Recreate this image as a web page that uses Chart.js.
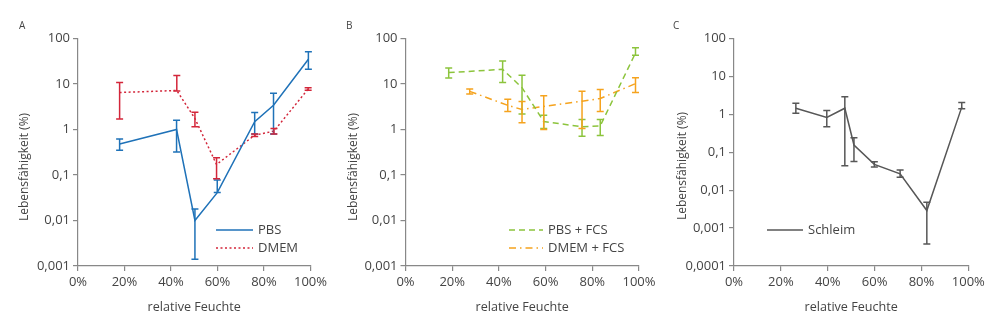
<!DOCTYPE html>
<html>
<head>
<meta charset="utf-8">
<script src="https://cdn.jsdelivr.net/npm/chart.js@4.4.0/dist/chart.umd.min.js"></script>
<style>
  body { margin: 0; background: #fff; width: 1000px; height: 336px; overflow: hidden; position: relative; font-family: "Open Sans", sans-serif; }
  .panel { position: absolute; top: 0; height: 336px; }
  .tag { position: absolute; top: 18px; font-size: 10px; color: #444; }
</style>
</head>
<body>
<div class="panel" style="left:0;width:330px"><canvas id="chartA" width="330" height="336"></canvas></div>
<div class="panel" style="left:330px;width:330px"><canvas id="chartB" width="330" height="336"></canvas></div>
<div class="panel" style="left:660px;width:340px"><canvas id="chartC" width="340" height="336"></canvas></div>
<div class="tag" style="left:19px">A</div>
<div class="tag" style="left:346px">B</div>
<div class="tag" style="left:673px">C</div>
<script>
// tick labels
var xTicks = [0, 20, 40, 60, 80, 100];
var yDecades = [100, 10, 1, 0.1, 0.01, 0.001, 0.0001];
var yDecadeLabels = ['100', '10', '1', '0,1', '0,01', '0,001', '0,0001'];

// Panel A
var pbsX = [17.9, 42.4, 50.3, 59.9, 76, 84.1, 99.1];
var pbsY = [0.48, 1.0, 0.01, 0.041, 1.48, 3.4, 35];
var pbsLo = [0.35, 0.32, 0.0014, 0.041, 0.8, 0.8, 21];
var pbsHi = [0.62, 1.6, 0.018, 0.078, 2.35, 6.3, 51];

var dmemX = [17.9, 42.5, 50.3, 59.6, 76, 84.3, 99];
var dmemY = [6.5, 7.2, 1.74, 0.17, 0.75, 0.92, 7.8];
var dmemLo = [1.7, 7.0, 1.15, 0.083, 0.7, 0.8, 7.3];
var dmemHi = [10.8, 15.4, 2.4, 0.24, 0.8, 1.05, 8.3];

// Panel B
var pbsFcsX = [18.5, 41.6, 49.9, 59.2, 75.6, 83.4, 98.5];
var pbsFcsY = [17.8, 21, 8.3, 1.5, 1.15, 1.2, 48];
var pbsFcsLo = [13.6, 10.8, 2.2, 1.05, 0.71, 0.74, 43];
var pbsFcsHi = [22.5, 32, 15.5, 2.05, 1.66, 1.66, 63];

var dmemFcsX = [27.5, 43.8, 49.9, 59.2, 75.6, 83.4, 98.5];
var dmemFcsY = [6.9, 3.4, 2.75, 3.2, 4.2, 4.8, 10.2];
var dmemFcsLo = [6.0, 2.5, 1.4, 1.0, 1.05, 2.5, 6.5];
var dmemFcsHi = [7.8, 4.6, 4.1, 5.5, 6.9, 7.6, 13.8];

// Panel C
var schleimX = [26.4, 39.6, 47.3, 51.2, 59.9, 70.9, 82.3, 97.2];
var schleimY = [1.45, 0.83, 1.45, 0.155, 0.048, 0.027, 0.0029, 1.55];
var schleimLo = [1.07, 0.47, 0.044, 0.057, 0.041, 0.022, 0.00038, 1.4];
var schleimHi = [1.95, 1.26, 2.9, 0.24, 0.056, 0.034, 0.0048, 2.05];

var FONT = '"Open Sans", sans-serif';

function pts(xs, ys) {
  return xs.map(function (x, i) { return { x: x, y: ys[i] }; });
}

var errorBars = {
  id: 'errorBars',
  afterDatasetsDraw: function (chart) {
    var ctx = chart.ctx, xs = chart.scales.x, ys = chart.scales.y;
    chart.data.datasets.forEach(function (ds) {
      if (!ds.errLow) return;
      ctx.save();
      ctx.strokeStyle = ds.borderColor;
      ctx.lineWidth = 1.5;
      ds.data.forEach(function (p, j) {
        var x = xs.getPixelForValue(p.x);
        var yt = ys.getPixelForValue(ds.errHigh[j]);
        var yb = ys.getPixelForValue(ds.errLow[j]);
        ctx.beginPath();
        ctx.moveTo(x, yt); ctx.lineTo(x, yb);
        ctx.moveTo(x - 3.5, yt); ctx.lineTo(x + 3.5, yt);
        ctx.moveTo(x - 3.5, yb); ctx.lineTo(x + 3.5, yb);
        ctx.stroke();
      });
      ctx.restore();
    });
  }
};

var insideLegend = {
  id: 'insideLegend',
  afterDraw: function (chart, args, opts) {
    var ctx = chart.ctx;
    ctx.save();
    ctx.font = '13px ' + FONT;
    ctx.textBaseline = 'middle';
    chart.data.datasets.forEach(function (ds, i) {
      var y = opts.y + i * opts.rowH;
      ctx.strokeStyle = ds.borderColor;
      ctx.lineWidth = 1.5;
      ctx.setLineDash(ds.borderDash || []);
      ctx.beginPath();
      ctx.moveTo(opts.x, y);
      ctx.lineTo(opts.x + opts.len, y);
      ctx.stroke();
      ctx.setLineDash([]);
      ctx.fillStyle = '#444';
      ctx.fillText(ds.label, opts.x + opts.len + 5, y);
    });
    // rotated y axis title
    ctx.translate(opts.titleX, opts.titleY);
    ctx.rotate(-Math.PI / 2);
    ctx.textAlign = 'center';
    ctx.font = '12px ' + FONT;
    ctx.fillText('Lebensfähigkeit (%)', 0, 0);
    ctx.restore();
  }
};

function makeChart(id, datasets, yMin, pad, yWidth, legendPos) {
  new Chart(document.getElementById(id), {
    type: 'line',
    data: { datasets: datasets },
    options: {
      responsive: false,
      animation: false,
      layout: { padding: pad },
      elements: { point: { radius: 0 }, line: { tension: 0, borderWidth: 1.5 } },
      plugins: { legend: { display: false }, tooltip: { enabled: false }, insideLegend: legendPos },
      scales: {
        x: {
          type: 'linear', min: 0, max: 100,
          afterBuildTicks: function (s) { s.ticks = xTicks.map(function (v) { return { value: v }; }); },
          afterFit: function (s) { s.height = 49; },
          ticks: { color: '#444', font: { size: 13, family: FONT }, padding: 3, maxRotation: 0,
                   callback: function (v) { return v + '%'; } },
          grid: { display: true, drawOnChartArea: false, drawTicks: true, tickLength: 5, color: '#888', lineWidth: 1.2 },
          border: { color: '#888', width: 1.2 },
          title: { display: true, text: 'relative Feuchte', color: '#444', font: { size: 12.6, family: FONT }, padding: 0 }
        },
        y: {
          type: 'logarithmic', min: yMin, max: 100,
          afterBuildTicks: function (s) {
            s.ticks = yDecades.filter(function (v) { return v >= yMin; }).map(function (v) { return { value: v }; });
          },
          afterFit: function (s) { s.width = yWidth; },
          ticks: { color: '#444', font: { size: 13, family: FONT }, padding: 3,
                   callback: function (v) { return yDecadeLabels[yDecades.indexOf(v)]; } },
          grid: { display: true, drawOnChartArea: false, drawTicks: true, tickLength: 5, color: '#888', lineWidth: 1.2 },
          border: { color: '#888', width: 1.2 },
          title: { display: false }
        }
      }
    },
    plugins: [errorBars, insideLegend]
  });
}

makeChart('chartA', [
  { label: 'PBS', data: pts(pbsX, pbsY), errLow: pbsLo, errHigh: pbsHi, borderColor: '#1f72b8' },
  { label: 'DMEM', data: pts(dmemX, dmemY), errLow: dmemLo, errHigh: dmemHi, borderColor: '#d3263a', borderDash: [2, 2.5] }
], 0.001, { left: 15, right: 18, top: 38.5, bottom: 21 }, 63,
  { x: 216, y: 230, rowH: 18, len: 37, titleX: 25, titleY: 167 });

makeChart('chartB', [
  { label: 'PBS + FCS', data: pts(pbsFcsX, pbsFcsY), errLow: pbsFcsLo, errHigh: pbsFcsHi, borderColor: '#8cc43c', borderDash: [6, 4] },
  { label: 'DMEM + FCS', data: pts(dmemFcsX, dmemFcsY), errLow: dmemFcsLo, errHigh: dmemFcsHi, borderColor: '#f5a31e', borderDash: [7, 4, 1.5, 4] }
], 0.001, { left: 15, right: 21, top: 38.5, bottom: 21 }, 60.5,
  { x: 179, y: 230, rowH: 18, len: 34, titleX: 24, titleY: 167 });

makeChart('chartC', [
  { label: 'Schleim', data: pts(schleimX, schleimY), errLow: schleimLo, errHigh: schleimHi, borderColor: '#575757' }
], 0.0001, { left: 14, right: 31.7, top: 38.5, bottom: 21 }, 60,
  { x: 107, y: 230, rowH: 18, len: 36, titleX: 23, titleY: 166 });
</script>
</body>
</html>
